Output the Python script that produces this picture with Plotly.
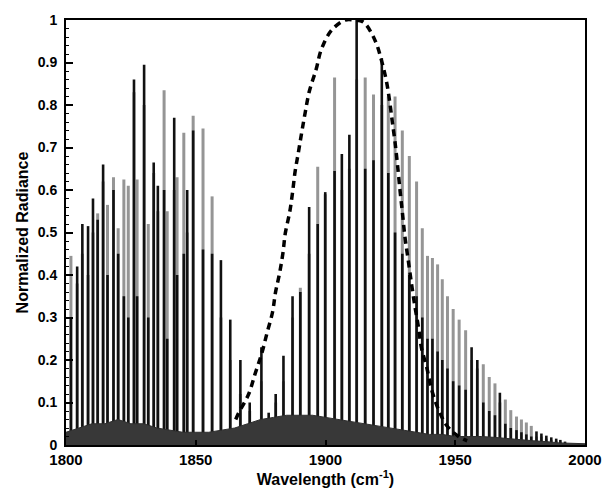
import plotly.graph_objects as go

# ---- data ----
line_pos = [1801.9, 1804.3, 1806.3, 1808.5, 1810.4, 1812.2, 1814.3, 1816.0, 1818.3, 1820.1,
            1822.3, 1824.0, 1826.2, 1827.4, 1830.1, 1831.7, 1833.8, 1835.4, 1837.8, 1839.0,
            1841.7, 1842.8, 1845.4, 1846.7, 1849.0, 1852.8, 1856.3, 1859.7, 1863.3, 1867.2,
            1870.8, 1875.3, 1878.1, 1880.8, 1883.8, 1887.3, 1890.3, 1893.7, 1897.0, 1899.9,
            1903.5, 1906.3, 1909.2, 1912.0, 1915.3, 1918.5, 1921.7, 1924.2, 1926.8, 1929.6,
            1932.3, 1935.1, 1937.3, 1939.3, 1941.2, 1943.2, 1945.0, 1947.0, 1949.2, 1951.5,
            1954.0, 1956.3, 1958.5, 1960.8, 1963.1, 1965.3, 1967.2, 1969.3, 1971.4, 1973.6,
            1975.5, 1977.4, 1979.3, 1981.3, 1983.2, 1985.1, 1987.0, 1988.9, 1990.5, 1992.3]

gray_height = [0.445, 0.38, 0.45, 0.40, 0.50, 0.545, 0.62, 0.565, 0.63, 0.51,
               0.625, 0.61, 0.83, 0.625, 0.80, 0.52, 0.64, 0.55, 0.835, 0.55,
               0.60, 0.63, 0.735, 0.50, 0.775, 0.745, 0.585, 0.30, 0.20, 0.12,
               0.08, 0.15, 0.06, 0.10, 0.15, 0.30, 0.37, 0.45, 0.655, 0.59,
               0.865, 0.60, 0.65, 0.86, 0.865, 0.825, 0.80, 0.82, 0.82, 0.74,
               0.68, 0.62, 0.51, 0.445, 0.44, 0.425, 0.39, 0.35, 0.32, 0.295,
               0.27, 0.20, 0.18, 0.19, 0.16, 0.145, 0.10, 0.107, 0.082, 0.067,
               0.06, 0.053, 0.045, 0.02, 0.02, 0.015, 0.012, 0.01, 0.008, 0.005]

black_height = [0.30, 0.42, 0.52, 0.515, 0.58, 0.53, 0.66, 0.40, 0.60, 0.45,
                0.35, 0.30, 0.86, 0.35, 0.895, 0.30, 0.665, 0.61, 0.60, 0.25,
                0.77, 0.40, 0.45, 0.60, 0.74, 0.46, 0.45, 0.435, 0.295, 0.20,
                0.10, 0.23, 0.076, 0.12, 0.21, 0.35, 0.36, 0.56, 0.52, 0.595,
                0.645, 0.685, 0.73, 1.0, 0.65, 0.67, 0.91, 0.64, 0.50, 0.45,
                0.40, 0.35, 0.30, 0.25, 0.25, 0.22, 0.20, 0.18, 0.15, 0.14,
                0.13, 0.23, 0.20, 0.10, 0.08, 0.07, 0.123, 0.05, 0.04, 0.035,
                0.03, 0.025, 0.02, 0.032, 0.027, 0.022, 0.018, 0.015, 0.012, 0.008]

cont_wn = [1800, 1805, 1810, 1815, 1820, 1825, 1830, 1835, 1840, 1845, 1850, 1855, 1860,
           1865, 1870, 1875, 1880, 1885, 1890, 1895, 1900, 1905, 1910, 1915, 1920, 1925,
           1930, 1935, 1940, 1945, 1950, 1955, 1960, 1965, 1970, 1975, 1980, 1985, 1990,
           1995, 2000]
cont_val = [0.03, 0.04, 0.05, 0.05, 0.06, 0.05, 0.05, 0.04, 0.035, 0.03, 0.03, 0.03, 0.035,
            0.04, 0.05, 0.06, 0.065, 0.07, 0.07, 0.07, 0.065, 0.06, 0.055, 0.05, 0.045, 0.04,
            0.035, 0.03, 0.025, 0.025, 0.02, 0.02, 0.02, 0.018, 0.015, 0.012, 0.01, 0.008,
            0.005, 0.004, 0.003]

dash_wn = [1865.4, 1866.5, 1870.4, 1873.0, 1875.5, 1877.4, 1879.6, 1880.7, 1882.3, 1883.6,
           1884.5, 1886.2, 1887.3, 1888.3, 1889.6, 1890.9, 1892.2, 1893.8, 1896.4, 1898.3,
           1902.2, 1907.6, 1911.0, 1914.6, 1919.1, 1921.7, 1923.6, 1924.9, 1925.8, 1926.8,
           1927.7, 1928.7, 1929.7, 1930.6, 1931.9, 1933.2, 1934.5, 1935.8, 1937.0, 1939.0,
           1940.9, 1943.5, 1946.7, 1951.5, 1954.6]
dash_val = [0.06, 0.075, 0.12, 0.17, 0.217, 0.262, 0.313, 0.358, 0.404, 0.452,
            0.498, 0.548, 0.594, 0.644, 0.69, 0.738, 0.783, 0.833, 0.884, 0.929,
            0.975, 1.0, 1.0, 0.995, 0.952, 0.902, 0.852, 0.80, 0.758, 0.712,
            0.662, 0.60, 0.543, 0.49, 0.434, 0.377, 0.324, 0.278, 0.228, 0.183,
            0.13, 0.084, 0.046, 0.019, 0.01]

x_ticks = [1800, 1850, 1900, 1950, 2000]
y_ticks = [0, 0.1, 0.2, 0.3, 0.4, 0.5, 0.6, 0.7, 0.8, 0.9, 1]
y_tick_text = ["0", "0.1", "0.2", "0.3", "0.4", "0.5", "0.6", "0.7", "0.8", "0.9", "1"]


def sticks(pos, h):
    xs, ys = [], []
    for p, v in zip(pos, h):
        xs += [p, p, None]
        ys += [0, v, None]
    return xs, ys


fig = go.Figure()

gx, gy = sticks(line_pos, gray_height)
fig.add_trace(go.Scatter(x=gx, y=gy, mode="lines", line=dict(color="#959595", width=3),
                         hoverinfo="skip", showlegend=False))
bx, by = sticks(line_pos, black_height)
fig.add_trace(go.Scatter(x=bx, y=by, mode="lines", line=dict(color="#111111", width=2.6),
                         hoverinfo="skip", showlegend=False))
fig.add_trace(go.Scatter(x=cont_wn, y=cont_val, mode="lines", fill="tozeroy",
                         line=dict(color="#2e2e2e", width=1), fillcolor="#383838",
                         hoverinfo="skip", showlegend=False))
fig.add_trace(go.Scatter(x=dash_wn, y=dash_val, mode="lines", line_shape="spline",
                         line=dict(color="black", width=3.5, dash="7px,5px"),
                         hoverinfo="skip", showlegend=False))

fam = "Liberation Sans, Arial, sans-serif"

fig.update_layout(
    width=614, height=494,
    margin=dict(l=66, r=29, t=12, b=44),
    paper_bgcolor="white", plot_bgcolor="white",
    font=dict(family=fam, size=14, color="black"),
    xaxis=dict(range=[1800, 2000], tickvals=x_ticks, ticktext=[f"<b>{v}</b>" for v in x_ticks],
               showgrid=False, zeroline=False, showline=True, linecolor="black", linewidth=2,
               mirror=True, ticks="inside", ticklen=5, tickwidth=1.5, tickcolor="black",
               title=dict(text="<b>Wavelength (cm<sup>-1</sup>)</b>", standoff=3,
                          font=dict(family=fam, size=16, color="black")),
               tickfont=dict(family=fam, size=15, color="black")),
    yaxis=dict(range=[0, 1], tickvals=y_ticks, ticktext=[f"<b>{t}</b>" for t in y_tick_text],
               showgrid=False, zeroline=False, showline=True, linecolor="black", linewidth=2,
               mirror=True, ticks="inside", ticklen=7, tickwidth=2, tickcolor="black",
               minor=dict(ticks="inside", ticklen=3, tickwidth=1, tickcolor="black", dtick=0.02),
               ticklabelstandoff=4,
               title=dict(text="<b>Normalized Radiance</b>", standoff=5,
                          font=dict(family=fam, size=16, color="black")),
               tickfont=dict(family=fam, size=14, color="black")),
)

fig.write_html("out.html")
